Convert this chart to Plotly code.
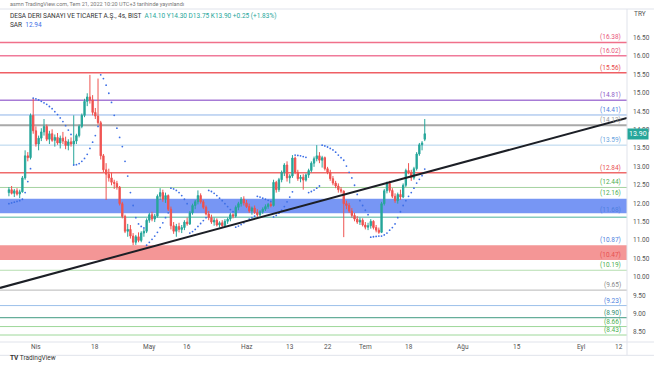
import plotly.graph_objects as go

# ---------------- data ----------------
bar_index = list(range(-10, 145))  # 4h bars, 0 = first bar of 1 April 2022

opens = [12.30, 12.38, 12.28, 12.35, 12.26, 12.32, 12.70, 13.30, 13.25, 14.40,
         13.98, 13.62, 13.78, 13.95, 14.10, 13.75, 13.90, 13.72, 13.80, 13.65,
         13.78, 13.70, 13.58, 13.68, 13.62, 13.70, 13.85, 14.10, 14.40, 14.78,
         14.90, 14.82, 14.48, 14.38, 14.20, 13.30, 12.92, 12.80, 12.70, 12.58,
         12.55, 12.45, 12.00, 11.65, 11.25, 11.30, 11.12, 10.95, 11.10, 11.00,
         11.20, 11.25, 11.55, 11.70, 11.58, 11.66, 12.20, 12.30, 12.12, 12.22,
         11.85, 11.40, 11.25, 11.38, 11.30, 11.35, 11.50, 11.45, 11.75, 11.95,
         12.05, 12.22, 12.05, 11.90, 11.72, 11.62, 11.50, 11.55, 11.42, 11.48,
         11.40, 11.52, 11.58, 11.70, 11.66, 11.90, 12.00, 12.12, 12.02, 11.92,
         11.80, 11.88, 11.76, 11.70, 11.78, 11.85, 11.92, 11.98, 11.95, 12.58,
         12.38, 12.65, 12.85, 13.05, 12.70, 12.75, 13.24, 12.85, 12.68, 12.72,
         12.64, 12.78, 12.90, 13.10, 13.22, 13.30, 13.18, 13.25, 12.95, 12.85,
         12.68, 12.56, 12.48, 12.38, 12.34, 12.00, 11.95, 11.80, 11.68, 11.58,
         11.50, 11.55, 11.42, 11.36, 11.40, 11.52, 11.35, 11.28, 11.22, 12.00,
         12.35, 12.55, 12.36, 12.20, 12.08, 12.25, 12.18, 12.50, 12.90, 12.85,
         12.70, 12.95, 13.35, 13.60, 13.75]
highs = [12.45, 12.48, 12.40, 12.42, 12.38, 12.75, 13.45, 13.40, 14.45, 14.87,
         14.10, 13.85, 14.05, 14.30, 14.15, 13.98, 14.02, 13.88, 13.92, 13.85,
         13.95, 13.82, 13.75, 13.80, 14.40, 13.90, 14.15, 14.45, 14.85, 15.00,
         15.50, 14.95, 14.60, 15.40, 14.25, 13.35, 13.10, 12.95, 12.85, 12.65,
         12.62, 12.48, 12.05, 11.70, 11.45, 11.42, 11.20, 11.15, 11.22, 11.25,
         11.32, 11.60, 11.75, 11.78, 11.72, 12.25, 12.42, 12.38, 12.30, 12.25,
         11.92, 11.50, 11.45, 11.48, 11.42, 11.55, 11.62, 11.80, 12.00, 12.10,
         12.36, 12.28, 12.10, 11.95, 11.80, 11.70, 11.62, 11.60, 11.52, 11.55,
         11.58, 11.62, 11.75, 11.74, 11.95, 12.05, 12.18, 12.20, 12.10, 12.00,
         11.92, 11.95, 11.85, 11.82, 11.90, 11.98, 12.02, 12.05, 12.65, 12.62,
         12.70, 12.90, 13.10, 13.15, 12.80, 13.32, 13.28, 12.92, 12.78, 12.80,
         12.82, 12.95, 13.15, 13.28, 13.59, 13.40, 13.30, 13.28, 13.00, 12.92,
         12.75, 12.62, 12.55, 12.45, 12.36, 12.08, 12.02, 11.88, 11.75, 11.66,
         11.62, 11.60, 11.50, 11.48, 11.58, 11.55, 11.42, 11.35, 12.05, 12.40,
         12.60, 12.62, 12.42, 12.28, 12.30, 12.38, 12.55, 12.95, 13.10, 12.92,
         13.00, 13.40, 13.65, 13.70, 14.30]
lows = [12.20, 12.25, 12.18, 12.22, 12.15, 12.30, 12.65, 13.15, 13.20, 13.90,
        13.55, 13.45, 13.70, 13.85, 13.70, 13.62, 13.68, 13.55, 13.60, 13.50,
        13.62, 13.48, 13.45, 13.55, 13.05, 13.62, 13.80, 14.05, 14.35, 14.65,
        14.72, 14.40, 14.30, 14.15, 13.20, 12.85, 12.10, 12.60, 12.50, 12.40,
        12.38, 11.95, 11.60, 11.20, 11.10, 11.05, 10.87, 10.88, 10.95, 10.95,
        11.10, 11.20, 11.48, 11.52, 11.50, 11.62, 12.10, 12.05, 12.02, 11.80,
        11.30, 11.18, 11.10, 11.22, 11.20, 11.28, 11.40, 11.42, 11.70, 11.85,
        11.98, 12.00, 11.85, 11.68, 11.55, 11.45, 11.40, 11.38, 11.35, 11.36,
        11.38, 11.45, 11.52, 11.60, 11.62, 11.82, 11.92, 11.95, 11.88, 11.75,
        11.70, 11.72, 11.64, 11.66, 11.72, 11.80, 11.86, 11.90, 11.92, 12.30,
        12.32, 12.58, 12.75, 12.60, 12.55, 12.70, 12.80, 12.62, 12.58, 12.38,
        12.60, 12.70, 12.85, 13.00, 13.15, 13.10, 12.98, 12.90, 12.80, 12.62,
        12.50, 12.42, 12.30, 12.28, 11.09, 11.85, 11.75, 11.62, 11.52, 11.45,
        11.42, 11.38, 11.30, 11.28, 11.32, 11.30, 11.22, 11.18, 11.20, 11.95,
        12.28, 12.30, 12.15, 12.02, 12.00, 12.10, 12.15, 12.45, 12.80, 12.62,
        12.65, 12.90, 13.30, 13.45, 13.70]
closes = [12.38, 12.28, 12.35, 12.26, 12.32, 12.70, 13.30, 13.25, 14.40, 13.98,
          13.62, 13.78, 13.95, 14.10, 13.75, 13.90, 13.72, 13.80, 13.65, 13.78,
          13.70, 13.58, 13.68, 13.62, 13.70, 13.85, 14.10, 14.40, 14.78, 14.90,
          14.82, 14.48, 14.38, 14.20, 13.30, 12.92, 12.80, 12.70, 12.58, 12.55,
          12.45, 12.00, 11.65, 11.25, 11.30, 11.12, 10.95, 11.10, 11.00, 11.20,
          11.25, 11.55, 11.70, 11.58, 11.66, 12.20, 12.30, 12.12, 12.22, 11.85,
          11.40, 11.25, 11.38, 11.30, 11.35, 11.50, 11.45, 11.75, 11.95, 12.05,
          12.22, 12.05, 11.90, 11.72, 11.62, 11.50, 11.55, 11.42, 11.48, 11.40,
          11.52, 11.58, 11.70, 11.66, 11.90, 12.00, 12.12, 12.02, 11.92, 11.80,
          11.88, 11.76, 11.70, 11.78, 11.85, 11.92, 11.98, 11.95, 12.58, 12.38,
          12.65, 12.85, 13.05, 12.70, 12.75, 13.24, 12.85, 12.68, 12.72, 12.64,
          12.78, 12.90, 13.10, 13.22, 13.30, 13.18, 13.25, 12.95, 12.85, 12.68,
          12.56, 12.48, 12.38, 12.34, 12.00, 11.95, 11.80, 11.68, 11.58, 11.50,
          11.55, 11.42, 11.36, 11.40, 11.52, 11.35, 11.28, 11.22, 12.00, 12.35,
          12.55, 12.36, 12.20, 12.08, 12.25, 12.18, 12.50, 12.90, 12.85, 12.70,
          12.95, 13.35, 13.60, 13.65, 13.90]

sar_values = [12.00, 12.02, 12.04, 12.06, 12.08, 12.12, 12.30, 12.60, 12.95,
              14.87, 14.85, 14.82, 14.78, 14.74, 14.70, 14.64, 14.58, 14.50, 14.42,
              14.33, 14.23, 14.12, 14.00, 13.88,
              13.05, 13.06, 13.09, 13.15, 13.23, 13.34, 13.50, 13.67, 13.85, 14.10,
              15.50, 15.40, 15.22, 15.00, 14.75, 14.40, 14.05, 13.80, 13.55, 13.15,
              12.75, 12.30, 11.95, 11.62, 11.45, 11.38, 11.34,
              10.87, 10.95, 11.03, 11.12, 11.22, 11.35, 11.48, 11.62, 11.75,
              12.42, 12.40, 12.36, 12.30, 12.22, 12.12, 12.00,
              11.20, 11.24, 11.30, 11.38, 11.46, 11.54, 11.62,
              12.36, 12.33, 12.28, 12.22, 12.15, 12.08, 12.00, 11.92, 11.84, 11.78,
              11.36, 11.39, 11.43, 11.48, 11.53, 11.58, 11.62, 11.66,
              12.20, 12.18, 12.15, 12.12, 12.09, 12.06,
              11.64, 11.68, 11.74, 11.82, 11.92, 12.05, 12.18, 12.32,
              13.32, 13.31, 13.30, 13.28, 13.26,
              12.30, 12.33, 12.37, 12.42, 12.48,
              13.59, 13.57, 13.54, 13.50, 13.46, 13.40, 13.32, 13.25, 13.18, 13.02,
              12.85, 12.70, 12.50, 12.25, 12.08, 11.95, 11.82, 11.70,
              11.09, 11.10, 11.11, 11.12, 11.12, 11.15, 11.20, 11.28, 11.35, 11.45,
              11.62, 11.78, 11.95, 12.08, 12.20, 12.30, 12.42, 12.56, 12.66, 12.76,
              12.94]

# horizontal price levels drawn on the chart
level_values = [16.38, 16.02, 15.56, 14.81, 14.41, 14.13, 13.59, 12.84, 12.44,
                11.63, 10.19, 9.65, 9.23, 8.90, 8.66, 8.43]
level_colors = ["#f0708a", "#f07a9a", "#ef5f64", "#a77bd6", "#8fb3e8", "#a9a9a9",
                "#b3d3ec", "#ef6b6b", "#a5d3a0", "#86cbbd", "#b5deb0", "#b8b8b8",
                "#9cc0ea", "#3f9a80", "#9ed89a", "#9ed89a"]
level_widths = [1.5, 1.5, 1.5, 1.5, 1, 2, 1, 1.5, 1, 1.5, 1, 1, 1, 1, 1, 1]

# price labels written at the right of the chart
label_values = [16.38, 16.02, 15.56, 14.81, 14.41, 14.13, 13.59, 12.84, 12.44,
                12.16, 11.68, 10.87, 10.47, 10.19, 9.65, 9.23, 8.90, 8.66, 8.43]
label_colors = ["#e8557a", "#e8557a", "#e84a4a", "#8e5cc8", "#4f7fe0", "#9a9a9a",
                "#6aa5e0", "#e85050", "#4caf50", "#4caf50", "#4f7fe0", "#4f7fe0",
                "#e85050", "#4caf50", "#8a8a8a", "#4f7fe0", "#2e8b6e", "#4caf50",
                "#4caf50"]

# zones (rectangles)
zone_low = [11.74, 10.47]
zone_high = [12.13, 10.87]
zone_colors = ["rgba(66,110,240,0.72)", "rgba(240,110,110,0.72)"]

# trend line (two anchor points, bar index / price)
trend_x = [-13.3, 218.9]
trend_y = [9.71, 14.33]

# time axis ticks
tick_bars = [0, 22, 42, 56, 78, 94, 108, 122, 138, 158, 178, 202, 216]
tick_text = ["Nis", "18", "May", "16", "Haz", "13", "22", "Tem", "18", "Ağu", "15", "Eyl", "12"]

price_ticks = [8.5 + 0.5 * k for k in range(17)]

last_price = 13.90

assert len(opens) == len(highs) == len(lows) == len(closes) == len(sar_values) == len(bar_index)

# ---------------- figure ----------------
FONT = "Roboto, Liberation Sans, Arial"
X_RANGE = [-13.3, 218.9]
Y_RANGE = [8.24, 17.29]
fig = go.Figure()

fig.add_trace(go.Candlestick(
    x=bar_index, open=opens, high=highs, low=lows, close=closes,
    increasing=dict(line=dict(color="#26a69a", width=1), fillcolor="#26a69a"),
    decreasing=dict(line=dict(color="#ef5350", width=1), fillcolor="#ef5350"),
    whiskerwidth=0, hoverinfo="skip", name="DESA"))

fig.add_trace(go.Scatter(
    x=bar_index, y=sar_values, mode="markers",
    marker=dict(size=1.8, color="#3d6fe6"), hoverinfo="skip", name="SAR"))

fig.add_trace(go.Scatter(
    x=trend_x, y=trend_y, mode="lines",
    line=dict(color="#1c1f26", width=2), hoverinfo="skip", name="trend"))

shapes = []
for lo, hi, col in zip(zone_low, zone_high, zone_colors):
    shapes.append(dict(type="rect", xref="paper", yref="y", x0=0, x1=1, y0=lo, y1=hi,
                       fillcolor=col, line=dict(width=0), layer="below"))
for v, c, w in zip(level_values, level_colors, level_widths):
    shapes.append(dict(type="line", xref="paper", yref="y", x0=0, x1=1, y0=v, y1=v,
                       line=dict(color=c, width=w), layer="below"))
# frame separators
sep = "#e0e3eb"
shapes.append(dict(type="line", xref="paper", yref="paper", x0=1, x1=1, y0=-0.04, y1=1.0,
                   line=dict(color=sep, width=1)))
shapes.append(dict(type="line", xref="paper", yref="paper", x0=0, x1=1.043, y0=0, y1=0,
                   line=dict(color=sep, width=1)))
shapes.append(dict(type="line", xref="paper", yref="paper", x0=0, x1=1.043, y0=1, y1=1,
                   line=dict(color=sep, width=1)))
shapes.append(dict(type="line", xref="paper", yref="paper", x0=0, x1=1.043, y0=-0.04, y1=-0.04,
                   line=dict(color=sep, width=1)))

annotations = []
for v, c in zip(label_values, label_colors):
    annotations.append(dict(xref="paper", yref="y", x=0.993, y=v, text=f"({v:.2f})",
                            xanchor="right", yanchor="bottom", showarrow=False,
                            font=dict(size=6.5, color=c, family=FONT), yshift=-1))

# price scale labels (right)
for p in price_ticks:
    annotations.append(dict(xref="paper", yref="y", x=1.006, y=p, text=f"{p:.2f}",
                            xanchor="left", yanchor="middle", showarrow=False,
                            font=dict(size=6.5, color="#555", family=FONT)))
# time scale labels (bottom)
for b, t in zip(tick_bars, tick_text):
    annotations.append(dict(xref="x", yref="paper", x=b, y=-0.016, text=t,
                            xanchor="center", yanchor="middle", showarrow=False,
                            font=dict(size=6.5, color="#555", family=FONT)))

annotations.append(dict(xref="paper", yref="y", x=1.0, y=last_price, text=f"{last_price:.2f}",
                        xanchor="left", yanchor="middle", showarrow=False,
                        bgcolor="#26a69a", borderpad=1,
                        font=dict(size=7, color="white", family=FONT)))

annotations.append(dict(xref="paper", yref="paper", x=0.012, y=1.015,
                        text="asmn TradingView.com, Tem 21, 2022 10:20 UTC+3 tarihinde yayınlandı",
                        xanchor="left", yanchor="middle", showarrow=False,
                        font=dict(size=5.5, color="#777", family=FONT)))
annotations.append(dict(xref="paper", yref="paper", x=0.012, y=0.979,
                        text="DESA DERI SANAYI VE TICARET A.Ş., 4s, BIST  "
                             "<span style='color:#26a69a'>A14.10 Y14.30 D13.75 K13.90 +0.25 (+1.83%)</span>",
                        xanchor="left", yanchor="middle", showarrow=False,
                        font=dict(size=6.5, color="#333", family=FONT)))
annotations.append(dict(xref="paper", yref="paper", x=0.012, y=0.952,
                        text="SAR  <span style='color:#3d6fe6'>12.94</span>",
                        xanchor="left", yanchor="middle", showarrow=False,
                        font=dict(size=6.5, color="#333", family=FONT)))
annotations.append(dict(xref="paper", yref="paper", x=1.008, y=0.985, text="TRY",
                        xanchor="left", yanchor="middle", showarrow=False,
                        font=dict(size=6.5, color="#555", family=FONT)))
annotations.append(dict(xref="paper", yref="paper", x=0.012, y=-0.048,
                        text="<b>TV</b> TradingView",
                        xanchor="left", yanchor="middle", showarrow=False,
                        font=dict(size=6.5, color="#333", family=FONT)))

fig.update_layout(
    template="none",
    width=654, height=366,
    margin=dict(l=0, r=27, t=9, b=24, pad=0, autoexpand=False),
    paper_bgcolor="white", plot_bgcolor="white",
    showlegend=False,
    shapes=shapes, annotations=annotations,
    font=dict(family=FONT, size=7, color="#444"),
    xaxis=dict(range=X_RANGE, showticklabels=False, automargin=False,
               showgrid=False, zeroline=False, showline=False, ticks="",
               rangeslider=dict(visible=False), fixedrange=True),
    yaxis=dict(range=Y_RANGE, side="right", showticklabels=False, automargin=False,
               showgrid=False, zeroline=False, showline=False, ticks="", fixedrange=True),
)

fig.write_html("out.html",
               config={"displayModeBar": False, "staticPlot": True},
               post_script="document.body.style.margin='0';document.body.style.overflow='hidden';")
